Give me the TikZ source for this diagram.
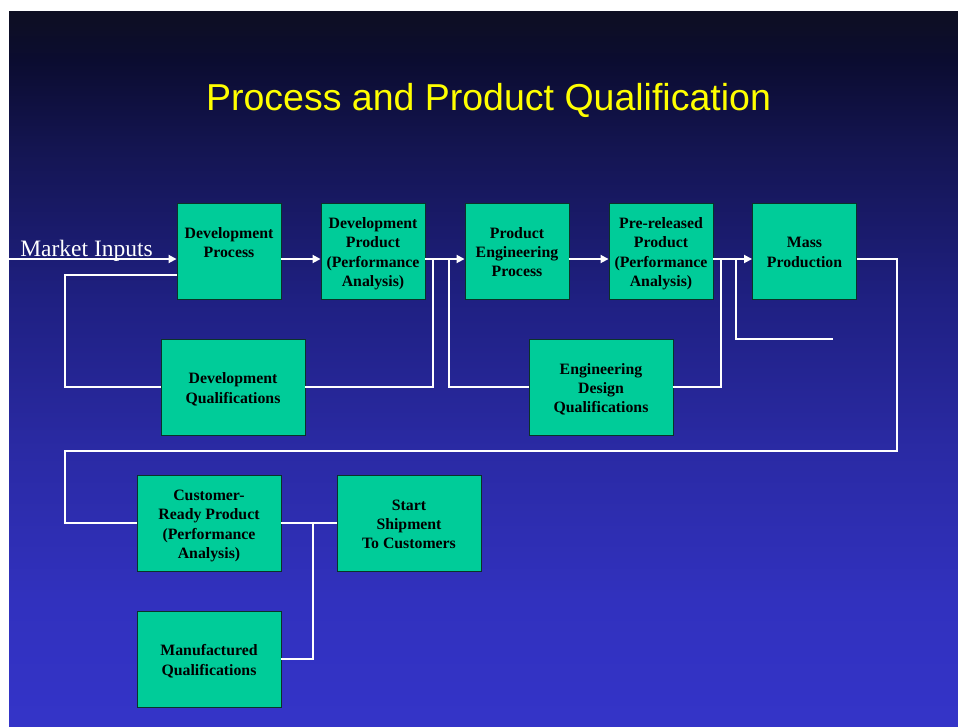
\documentclass[tikz,border=0pt]{standalone}
\usepackage{fontspec}
\setmainfont{Liberation Serif}
\newfontfamily\titlefont{Liberation Sans}
\usetikzlibrary{arrows.meta,calc}
\definecolor{bgA}{HTML}{0E0F22}
\definecolor{bgB}{HTML}{0B0C30}
\definecolor{bgC}{HTML}{141552}
\definecolor{bgD}{HTML}{1F2082}
\definecolor{bgE}{HTML}{2A2AA4}
\definecolor{bgF}{HTML}{3131BE}
\definecolor{bgG}{HTML}{3434C8}
\definecolor{boxfill}{HTML}{00CC99}
\definecolor{boxline}{HTML}{0A3328}
\definecolor{titleyellow}{HTML}{FFFF00}
\newcommand\bxtext[1]{\raisebox{-2.5pt}[\height][\depth]{\begin{tabular}{@{}c@{}}#1\end{tabular}}}
\tikzset{
  stepbox/.style={draw=boxline, fill=boxfill, line width=0.9pt, text=black,
    inner sep=0pt, minimum width=104pt, minimum height=96pt,
    font=\bfseries\fontsize{15.8}{19.3}\selectfont},
  widebox/.style={stepbox, minimum width=144pt},
  conn/.style={draw=white, line width=1.8pt},
  arr/.style={conn, -{Triangle[length=8pt,width=8pt]}},
}
\begin{document}
\begin{tikzpicture}[x=1pt,y=-1pt]
\useasboundingbox (0,0) rectangle (958,726);
% background
\fill[white] (0,0) rectangle (958,726);
\shade[top color=bgA, bottom color=bgB] (9,11) rectangle (958,60.5);
\shade[top color=bgB, bottom color=bgC] (9,60) rectangle (958,150.5);
\shade[top color=bgC, bottom color=bgD] (9,150) rectangle (958,300.5);
\shade[top color=bgD, bottom color=bgE] (9,300) rectangle (958,450.5);
\shade[top color=bgE, bottom color=bgF] (9,450) rectangle (958,600.5);
\shade[top color=bgF, bottom color=bgG] (9,600) rectangle (958,726);

% title
\node[anchor=base, text=titleyellow, font=\titlefont\fontsize{37.5}{40}\selectfont] (title) at (488.5,110) {Process and Product Qualification};

% boxes
\node[stepbox] (dp) at (229,251) {\bxtext{Development\\Process\\~}};
\node[stepbox] (dprod) at (373,251) {\bxtext{Development\\Product\\(Performance\\Analysis)}};
\node[stepbox] (pep) at (517,251) {\bxtext{Product\\Engineering\\Process}};
\node[stepbox] (prp) at (661,251) {\bxtext{Pre-released\\Product\\(Performance\\Analysis)}};
\node[stepbox] (mp) at (804.5,251) {\bxtext{Mass\\Production}};
\node[widebox] (dq) at (233,387) {\bxtext{Development\\Qualifications}};
\node[widebox] (edq) at (601,387) {\bxtext{Engineering\\Design\\Qualifications}};
\node[widebox] (crp) at (209,523) {\bxtext{Customer-\\Ready Product\\(Performance\\Analysis)}};
\node[widebox] (ss) at (409,523) {\bxtext{Start\\Shipment\\To Customers}};
\node[widebox] (mq) at (209,659) {\bxtext{Manufactured\\Qualifications}};

% market inputs
\node[anchor=base, text=white, font=\fontsize{23.5}{26}\selectfont] (milabel) at (86.5,256.5) {Market Inputs};
\coordinate (mi) at (9,259);

% junction coordinates
\coordinate (j1) at (65,275);
\coordinate (j2) at (65,387);
\coordinate (j3) at (433,387);
\coordinate (j4) at (433,259);
\coordinate (j5) at (449,259);
\coordinate (j6) at (449,387);
\coordinate (j7) at (721,387);
\coordinate (j8) at (721,259);
\coordinate (j9) at (736,259);
\coordinate (j10) at (736,339);
\coordinate (j11) at (833,339);
\coordinate (j12) at (897,259);
\coordinate (j13) at (897,451);
\coordinate (j14) at (65,451);
\coordinate (j15) at (65,523);
\coordinate (j16) at (313,523);
\coordinate (j17) at (313,659);

% main flow
\draw[arr] (mi) -- ($(dp.west)+(0,8)$);
\draw[arr] ($(dp.east)+(0,8)$) -- ($(dprod.west)+(0,8)$);
\draw[arr] ($(dprod.east)+(0,8)$) -- ($(pep.west)+(0,8)$);
\draw[arr] ($(pep.east)+(0,8)$) -- ($(prp.west)+(0,8)$);
\draw[arr] ($(prp.east)+(0,8)$) -- ($(mp.west)+(0,8)$);

% feedback loops
\draw[conn] ($(dp.west)+(0,24)$) -- (j1) -- (j2) -- (dq.west);
\draw[conn] (dq.east) -- (j3) -- (j4);
\draw[conn] (j5) -- (j6) -- (edq.west);
\draw[conn] (edq.east) -- (j7) -- (j8);
\draw[conn] (j9) -- (j10) -- (j11);

% to bottom row
\draw[conn] ($(mp.east)+(0,8)$) -- (j12) -- (j13) -- (j14) -- (j15) -- (crp.west);
\draw[conn] (crp.east) -- (ss.west);
\draw[conn] (j16) -- (j17) -- (mq.east);
\end{tikzpicture}
\end{document}
